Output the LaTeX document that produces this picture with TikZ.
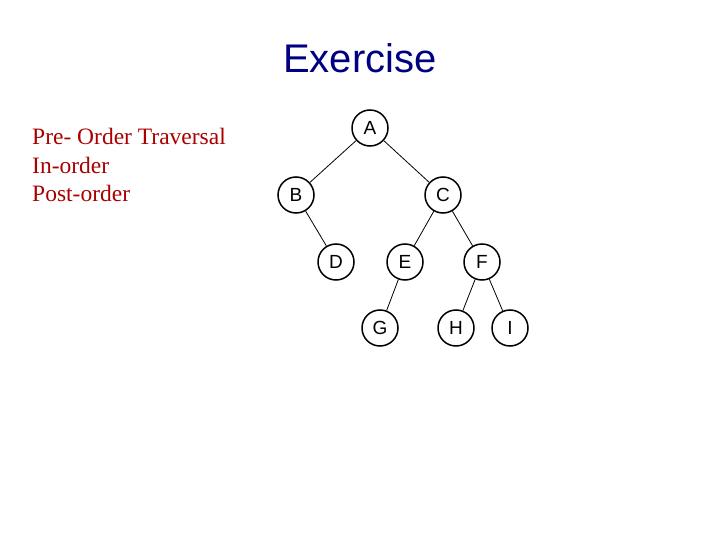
\documentclass[tikz,border=0pt]{standalone}
\usepackage{fontspec}
\setmainfont{Liberation Serif}
\setsansfont{Liberation Sans}
\definecolor{mytitle}{RGB}{0,0,128}
\definecolor{myred}{RGB}{170,0,0}
\tikzset{
    treenode/.style={circle, draw, line width=1.5pt, minimum size=36pt, inner sep=0pt, font=\sffamily\fontsize{19}{19}\selectfont},
    treeedge/.style={line width=0.8pt}
}
\begin{document}
\begin{tikzpicture}[x=1pt, y=-1pt]
    \useasboundingbox (0,0) rectangle (720,540);
    % Title
    \node[anchor=center, color=mytitle, font=\sffamily\fontsize{40}{40}\selectfont] (title) at (360,58) {Exercise};
    % Traversal list
    \node[anchor=north west, color=myred, align=left, inner sep=0pt,
          font=\fontsize{23.5}{28.5}\selectfont] (list) at (32,128)
        {Pre- Order Traversal\\In-order\\Post-order};

    % Tree
    \node[treenode] (A) at (370,128) {A};
    \node[treenode] (B) at (296,195) {B};
    \node[treenode] (C) at (443,195) {C};
    \node[treenode] (D) at (336,262) {D};
    \node[treenode] (E) at (405,262) {E};
    \node[treenode] (F) at (482,262) {F};
    \node[treenode] (G) at (380,328) {G};
    \node[treenode] (H) at (456,328) {H};
    \node[treenode] (I) at (510,328) {I};

    \foreach \p/\c in {A/B, A/C, B/D, C/E, C/F, E/G, F/H, F/I}
        \draw[treeedge] (\p) -- (\c);
\end{tikzpicture}
\end{document}
